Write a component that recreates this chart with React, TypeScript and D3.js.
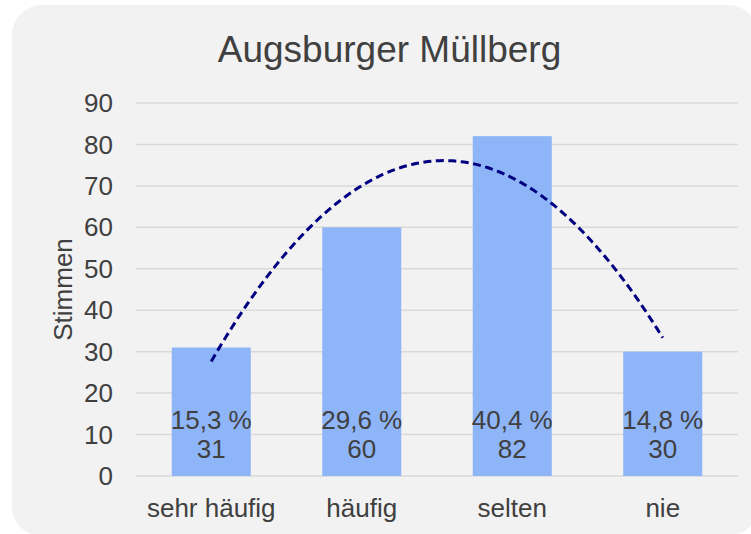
import { useEffect, useRef } from 'react'
import * as d3 from 'd3'

const categories = ['sehr häufig', 'häufig', 'selten', 'nie']
const votes = [31, 60, 82, 30]
const percentLabels = ['15,3 %', '29,6 %', '40,4 %', '14,8 %']
const yTicks = [0, 10, 20, 30, 40, 50, 60, 70, 80, 90]

const W = 751
const H = 534
const FONT = '"Liberation Sans", Arial, sans-serif'
const TEXT = '#404040'

// quadratic least-squares trendline (like Excel's polynomial order 2)
const fitQuadratic = (ys: number[]) => {
  const xs = ys.map((_, i) => i + 1)
  const mx = d3.mean(xs) as number
  const u = xs.map(x => x - mx)
  const mu2 = d3.mean(u, v => v * v) as number
  const p2 = u.map(v => v * v - mu2)
  const my = d3.mean(ys) as number
  const b = d3.sum(u, (v, i) => v * ys[i]) / d3.sum(u, v => v * v)
  const c = d3.sum(p2, (v, i) => v * ys[i]) / d3.sum(p2, v => v * v)
  return (x: number) => {
    const t = x - mx
    return my + b * t + c * (t * t - mu2)
  }
}

const App = () => {
  const svgRef = useRef<SVGSVGElement>(null)

  useEffect(() => {
    const svg = d3.select(svgRef.current)
    svg.selectAll('*').remove()

    const margin = { left: 136, right: 13, top: 103, bottom: 58 }
    const x = d3.scaleBand()
      .domain(categories)
      .range([margin.left, W - margin.right])
      .paddingInner(0.475)
      .paddingOuter(0.2375)
    const y = d3.scaleLinear()
      .domain([0, 90])
      .range([H - margin.bottom, margin.top])

    // background card
    svg.append('rect')
      .attr('x', 12)
      .attr('y', 5)
      .attr('width', 746)
      .attr('height', 531)
      .attr('rx', 30)
      .attr('fill', '#f2f2f2')

    // title
    svg.append('text')
      .attr('x', 389.5)
      .attr('y', 62)
      .attr('text-anchor', 'middle')
      .style('font-family', FONT)
      .style('font-size', '37px')
      .style('fill', TEXT)
      .text('Augsburger Müllberg')

    // gridlines
    svg.append('g')
      .selectAll('line')
      .data(yTicks)
      .join('line')
      .attr('x1', margin.left)
      .attr('x2', W - margin.right)
      .attr('y1', d => y(d))
      .attr('y2', d => y(d))
      .attr('stroke', '#d9d9d9')
      .attr('stroke-width', 1.5)

    // y tick labels
    svg.append('g')
      .selectAll('text')
      .data(yTicks)
      .join('text')
      .attr('x', 113)
      .attr('y', d => y(d))
      .attr('dy', '0.35em')
      .attr('text-anchor', 'end')
      .style('font-family', FONT)
      .style('font-size', '26px')
      .style('fill', TEXT)
      .text(d => d)

    // y axis title
    svg.append('text')
      .attr('transform', `translate(72,${(y(0) + y(90)) / 2}) rotate(-90)`)
      .attr('text-anchor', 'middle')
      .style('font-family', FONT)
      .style('font-size', '26px')
      .style('fill', TEXT)
      .text('Stimmen')

    // bars
    svg.append('g')
      .selectAll('rect')
      .data(votes)
      .join('rect')
      .attr('x', (_, i) => x(categories[i]) as number)
      .attr('y', d => y(d))
      .attr('width', x.bandwidth())
      .attr('height', d => y(0) - y(d))
      .attr('fill', '#8fb5f9')

    // data labels (percent + count)
    const labels = svg.append('g')
      .style('font-family', FONT)
      .style('font-size', '26px')
      .style('fill', TEXT)
      .attr('text-anchor', 'middle')
    votes.forEach((v, i) => {
      const cx = (x(categories[i]) as number) + x.bandwidth() / 2
      labels.append('text')
        .attr('x', cx)
        .attr('y', y(0) - 47)
        .text(percentLabels[i])
      labels.append('text')
        .attr('x', cx)
        .attr('y', y(0) - 18)
        .text(v)
    })

    // category labels
    svg.append('g')
      .selectAll('text')
      .data(categories)
      .join('text')
      .attr('x', d => (x(d) as number) + x.bandwidth() / 2)
      .attr('y', 517)
      .attr('text-anchor', 'middle')
      .style('font-family', FONT)
      .style('font-size', '26px')
      .style('fill', TEXT)
      .text(d => d)

    // trendline
    const trend = fitQuadratic(votes)
    const xPos = d3.scaleLinear()
      .domain([1, categories.length])
      .range([
        (x(categories[0]) as number) + x.bandwidth() / 2,
        (x(categories[categories.length - 1]) as number) + x.bandwidth() / 2
      ])
    const pts = d3.range(1, categories.length + 0.001, 0.02)
    const line = d3.line<number>()
      .x(d => xPos(d))
      .y(d => y(trend(d)))
    svg.append('path')
      .datum(pts)
      .attr('fill', 'none')
      .attr('stroke', '#000080')
      .attr('stroke-width', 3)
      .attr('stroke-dasharray', '8,4.5')
      .attr('d', line)
  }, [])

  return (
    <svg
      ref={svgRef}
      width={W}
      height={H}
      style={{ position: 'absolute', left: 0, top: 0 }}
    ></svg>
  )
}

export default App
